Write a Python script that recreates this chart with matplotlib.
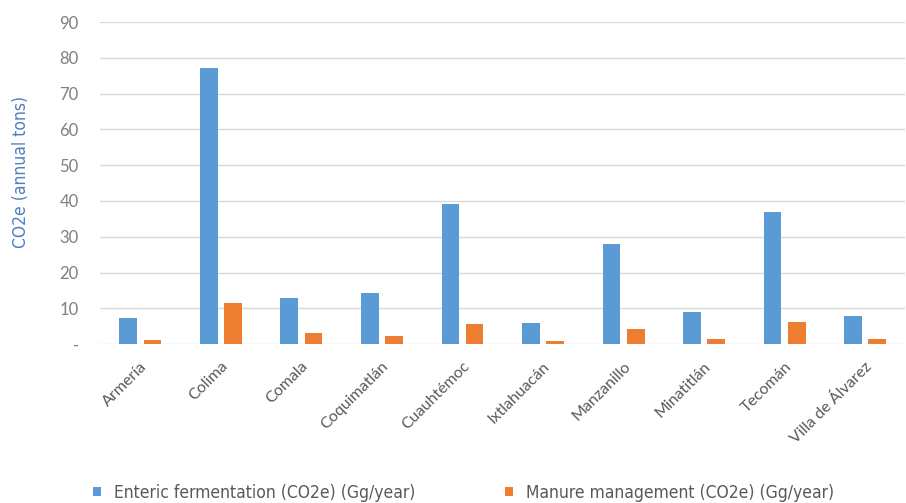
import matplotlib
matplotlib.use('Agg')
import matplotlib.pyplot as plt
import numpy as np

municipalities = ['Armería', 'Colima', 'Comala', 'Coquimatlán', 'Cuauhtémoc',
                  'Ixtlahuacán', 'Manzanillo', 'Minatitlán', 'Tecomán', 'Villa de Álvarez']
enteric = [7.3, 77.1, 12.9, 14.2, 39.1, 5.8, 27.9, 9.0, 36.9, 7.9]
manure = [1.1, 11.4, 3.0, 2.3, 5.6, 0.8, 4.1, 1.3, 6.1, 1.3]
y_ticks = [0, 10, 20, 30, 40, 50, 60, 70, 80, 90]
y_tick_labels = ['-', '10', '20', '30', '40', '50', '60', '70', '80', '90']

plt.rcParams['font.family'] = ['DejaVu Sans']
plt.rcParams['font.stretch'] = 'condensed'

fig = plt.figure(figsize=(9.06, 5.03), dpi=100)
ax = fig.add_axes([0.110, 0.316, 0.889, 0.640])

x = np.arange(len(municipalities))
w = 0.22
ax.bar(x - 0.145, enteric, w, color='#5b9bd5', label='Enteric fermentation (CO2e) (Gg/year)', zorder=3)
ax.bar(x + 0.155, manure, w, color='#ed7d31', label='Manure management (CO2e) (Gg/year)', zorder=3)

ax.set_xlim(-0.5, len(municipalities) - 0.5)
ax.set_ylim(0, 90)
ax.set_yticks(y_ticks)
ax.set_yticklabels(y_tick_labels, color='#7f7f7f', fontsize=12, family='Lato', stretch='normal')
ax.set_xticks(x)
ax.set_xticklabels(municipalities, rotation=45, ha='right', rotation_mode='anchor',
                   color='#595959', fontsize=11.5, family='Lato', stretch='normal')
ax.tick_params(axis='y', length=0, pad=15)
ax.tick_params(axis='x', length=0, pad=11)
ax.grid(axis='y', color='#d9d9d9', linewidth=1, zorder=0)
for s in ax.spines.values():
    s.set_visible(False)
ax.set_ylabel('CO2e (annual tons)', color='#4f7fbf', fontsize=12.5)
ax.yaxis.set_label_coords(-0.086, 0.534)

fig.legend(loc='center left', bbox_to_anchor=(0.085, 0.02), ncol=2, frameon=False,
           fontsize=12.5, handlelength=0.46, handleheight=0.46, handletextpad=0.75,
           columnspacing=5.2, labelcolor='#595959')

fig.savefig('out.png', dpi=100)
